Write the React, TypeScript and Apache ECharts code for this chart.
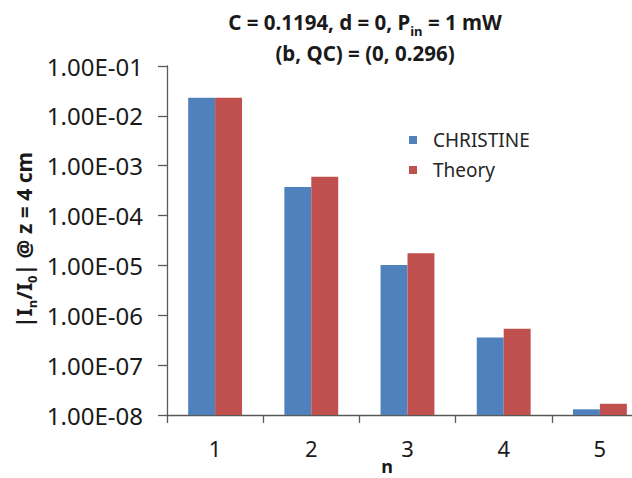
import React, { useEffect, useRef } from "react";
import * as echarts from "echarts";

// Harmonic order n and |I_n/I_0| at z = 4 cm
const orders = ["1", "2", "3", "4", "5"];
const christine = [2.3e-2, 3.75e-4, 1.02e-5, 3.6e-7, 1.3e-8];
const theory = [2.3e-2, 6.0e-4, 1.75e-5, 5.4e-7, 1.68e-8];
const seriesNames = ["CHRISTINE", "Theory"];
const seriesColors = ["#4F81BD", "#C0504D"];

const Y_MIN = 1e-8;
const Y_MAX = 1e-1;
const BAR_FRACTION = 0.28; // width of one bar as a share of the category band

const FONT = "'Noto Sans', 'DejaVu Sans', sans-serif";

function sci(v: number): string {
  const exp = Math.round(Math.log10(v));
  const mant = v / Math.pow(10, exp);
  const sign = exp < 0 ? "-" : "+";
  const e = String(Math.abs(exp)).padStart(2, "0");
  return mant.toFixed(2) + "E" + sign + e;
}

// Bars on a log axis, drawn from the axis floor up to each value
function barRenderer(side: number, color: string) {
  return (_params: any, api: any) => {
    const cat = api.value(0);
    const v = api.value(1);
    const top = api.coord([cat, v]);
    const base = api.coord([cat, Y_MIN]);
    const band = api.coord([1, Y_MIN])[0] - api.coord([0, Y_MIN])[0];
    const w = band * BAR_FRACTION;
    const x = side < 0 ? top[0] - w : top[0];
    return {
      type: "rect",
      shape: { x, y: top[1], width: w, height: base[1] - top[1] },
      style: { fill: color },
    };
  };
}

export default function App() {
  const ref = useRef<HTMLDivElement>(null);

  useEffect(() => {
    if (!ref.current) return;
    const chart = echarts.init(ref.current, null, { renderer: "svg" });
    const legendItems: any[] = [];
    seriesNames.forEach((name, i) => {
      const cy = 140 + i * 30;
      legendItems.push({
        type: "rect",
        shape: { x: 409, y: cy - 4, width: 8, height: 8 },
        style: { fill: seriesColors[i] },
      });
      legendItems.push({
        type: "text",
        x: 433,
        y: cy,
        style: {
          text: name,
          fontSize: 19,
          fontFamily: FONT,
          fill: "#262626",
          verticalAlign: "middle",
        },
      });
    });

    chart.setOption({
      animation: false,
      backgroundColor: "#ffffff",
      textStyle: { fontFamily: FONT },
      grid: { left: 167, top: 66, bottom: 63, right: 0 },
      xAxis: {
        type: "category",
        data: orders,
        axisLine: { lineStyle: { color: "#595959", width: 1.3 } },
        axisTick: { show: true, length: 8, lineStyle: { color: "#595959", width: 1.3 } },
        axisLabel: { fontSize: 22, color: "#1a1a1a", margin: 22, fontFamily: FONT },
        splitLine: { show: false },
      },
      yAxis: {
        type: "log",
        logBase: 10,
        min: Y_MIN,
        max: Y_MAX,
        axisLine: { show: true, lineStyle: { color: "#595959", width: 1.3 } },
        axisTick: { show: true, length: 9, lineStyle: { color: "#595959", width: 1.3 } },
        axisLabel: { fontSize: 24, color: "#1a1a1a", margin: 24, fontFamily: FONT, formatter: (v: number) => sci(v) },
        splitLine: { show: false },
        minorTick: { show: false },
      },
      series: [
        {
          name: seriesNames[0],
          type: "custom",
          data: christine.map((v, i) => [i, v]),
          encode: { x: 0, y: 1 },
          renderItem: barRenderer(-1, seriesColors[0]),
        },
        {
          name: seriesNames[1],
          type: "custom",
          data: theory.map((v, i) => [i, v]),
          encode: { x: 0, y: 1 },
          renderItem: barRenderer(1, seriesColors[1]),
        },
      ],
      graphic: [
        {
          type: "text",
          x: 365,
          y: 6,
          style: {
            text: "{a|C = 0.1194, d = 0, P}{s|in}{a| = 1 mW}\n{a|(b, QC) = (0, 0.296)}",
            align: "center",
            rich: {
              a: { fontSize: 20.5, fontWeight: "bold", fontFamily: FONT, lineHeight: 31, verticalAlign: "middle", fill: "#1a1a1a" },
              s: { fontSize: 13, fontWeight: "bold", fontFamily: FONT, lineHeight: 16, verticalAlign: "bottom", fill: "#1a1a1a" },
            },
          },
        },
        {
          type: "text",
          x: 24,
          y: 240,
          rotation: Math.PI / 2,
          style: {
            text: "{a||I}{s|n}{a|/I}{s|0}{a|| @ z = 4 cm}",
            align: "center",
            verticalAlign: "middle",
            rich: {
              a: { fontSize: 21, fontWeight: "bold", fontFamily: FONT, lineHeight: 28, verticalAlign: "middle", fill: "#1a1a1a" },
              s: { fontSize: 13, fontWeight: "bold", fontFamily: FONT, lineHeight: 15, verticalAlign: "bottom", fill: "#1a1a1a" },
            },
          },
        },
        {
          type: "text",
          x: 387,
          y: 466,
          style: {
            text: "n",
            align: "center",
            verticalAlign: "middle",
            fontSize: 18,
            fontWeight: "bold",
            fontFamily: FONT,
            fill: "#1a1a1a",
          },
        },
        ...legendItems,
      ],
    });
    return () => chart.dispose();
  }, []);

  return (
    <div
      ref={ref}
      style={{ position: "fixed", left: 0, top: 0, width: 648, height: 478 }}
    />
  );
}
